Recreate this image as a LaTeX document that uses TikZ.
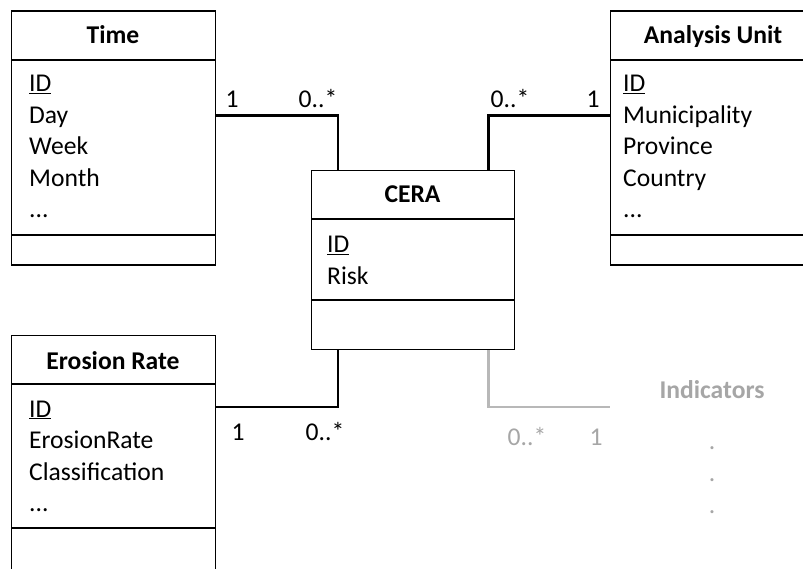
\documentclass[tikz,border=0pt]{standalone}
\usepackage{fontspec}
\setmainfont{Carlito}
\begin{document}
\begin{tikzpicture}[x=1pt,y=-1pt,
  every node/.style={inner sep=0pt, font=\fontsize{25.6}{31}\selectfont},
  classbox/.style={draw=black, line width=1.3pt, minimum width=204pt, anchor=north west},
  title/.style={font=\fontsize{25.6}{31}\selectfont\bfseries, anchor=base},
  attr/.style={anchor=base west},
  mult/.style={anchor=base},
  assoc/.style={draw=black, line width=2.6pt},
  faded/.style={text=black!35},
  fadedassoc/.style={draw=black!28, line width=2.6pt}]
\useasboundingbox (0,0) rectangle (803,569);
\clip (0,0) rectangle (803,569);

% class boxes
\node[classbox, minimum height=254pt] (time) at (11,10.5) {};
\node[classbox, minimum height=254pt] (unit) at (610,10.5) {};
\node[classbox, minimum height=179pt, minimum width=203pt] (cera) at (311,170) {};
\node[classbox, minimum height=254pt] (erosion) at (11,335) {};

% compartment dividers
\draw[line width=1.3pt] ([yshift=-49.5pt]time.north west) -- ([yshift=-49.5pt]time.north east);
\draw[line width=1.3pt] ([yshift=-224.5pt]time.north west) -- ([yshift=-224.5pt]time.north east);
\draw[line width=1.3pt] ([yshift=-49.5pt]unit.north west) -- ([yshift=-49.5pt]unit.north east);
\draw[line width=1.3pt] ([yshift=-224.5pt]unit.north west) -- ([yshift=-224.5pt]unit.north east);
\draw[line width=1.3pt] ([yshift=-49pt]cera.north west) -- ([yshift=-49pt]cera.north east);
\draw[line width=1.3pt] ([yshift=-130pt]cera.north west) -- ([yshift=-130pt]cera.north east);
\draw[line width=1.3pt] ([yshift=-49pt]erosion.north west) -- ([yshift=-49pt]erosion.north east);
\draw[line width=1.3pt] ([yshift=-193pt]erosion.north west) -- ([yshift=-193pt]erosion.north east);

% Time
\node[title] (time-t) at (113,44) {Time};
\node[attr] (time-a1) at (29,92) {\underline{ID}};
\node[attr] (time-a2) at (29,123.5) {Day};
\node[attr] (time-a3) at (29,155) {Week};
\node[attr] (time-a4) at (29,186.5) {Month};
\node[attr] (time-a5) at (29,218) {...};

% Analysis Unit
\node[title] (unit-t) at (713,44) {Analysis Unit};
\node[attr] (unit-a1) at (623,92) {\underline{ID}};
\node[attr] (unit-a2) at (623,123.5) {Municipality};
\node[attr] (unit-a3) at (623,155) {Province};
\node[attr] (unit-a4) at (623,186.5) {Country};
\node[attr] (unit-a5) at (623,218) {...};

% CERA
\node[title] (cera-t) at (412.5,203) {CERA};
\node[attr] (cera-a1) at (327,253) {\underline{ID}};
\node[attr] (cera-a2) at (327,284.5) {Risk};

% Erosion Rate
\node[title] (erosion-t) at (113,369) {Erosion Rate};
\node[attr] (erosion-a1) at (29,417) {\underline{ID}};
\node[attr] (erosion-a2) at (29,448.5) {ErosionRate};
\node[attr] (erosion-a3) at (29,480) {Classification};
\node[attr] (erosion-a4) at (29,511.5) {...};

% Indicators (outline not drawn)
\node[title, faded] (ind-t) at (712,398) {Indicators};
\node[mult, faded] (ind-d1) at (712,449) {.};
\node[mult, faded] (ind-d2) at (712,481) {.};
\node[mult, faded] (ind-d3) at (712,513) {.};
\coordinate (ind-w) at (610,407);

% associations
\draw[assoc] ([yshift=-105pt]time.north east) -| ([xshift=27pt]cera.north west);
\draw[assoc] ([yshift=-105pt]unit.north west) -| ([xshift=-27pt]cera.north east);
\draw[assoc] ([yshift=-72pt]erosion.north east) -| ([xshift=27pt]cera.south west);
\draw[fadedassoc] ([xshift=-27pt]cera.south east) |- (ind-w);

% multiplicities
\node[mult] (m1) at (232,108) {1};
\node[mult] (m2) at (318,108) {0..*};
\node[mult] (m3) at (510,108) {0..*};
\node[mult] (m4) at (593,108) {1};
\node[mult] (m5) at (238,440) {1};
\node[mult] (m6) at (325,440) {0..*};
\node[mult, faded] (m7) at (527,445) {0..*};
\node[mult, faded] (m8) at (596,445) {1};
\end{tikzpicture}
\end{document}
